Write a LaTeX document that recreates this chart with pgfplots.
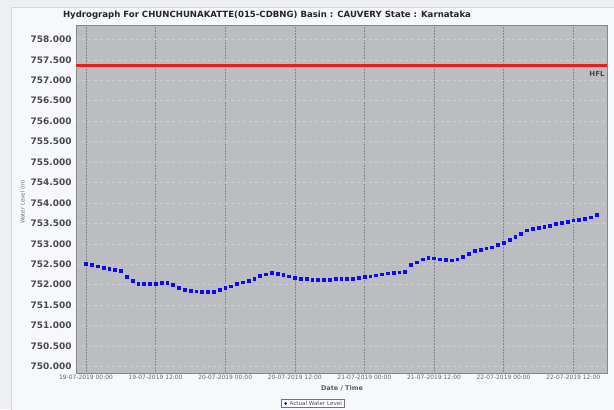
\documentclass[border=0pt]{standalone}
\usepackage{pgfplots}
\pgfplotsset{compat=1.18}
\usepackage{fontspec}
\setmainfont{DejaVu Sans}
\definecolor{outerbg}{HTML}{EDEFF2}
\definecolor{panelbg}{HTML}{F6F8FB}
\definecolor{panelbd}{HTML}{D5D9DE}
\definecolor{plotbg}{HTML}{BCBDC0}
\definecolor{vgrid}{HTML}{85878A}
\definecolor{hgrid}{HTML}{CDCED1}
\definecolor{ticktext}{HTML}{4A4A4A}
\definecolor{hflred}{HTML}{E5201E}
\definecolor{ptblue}{HTML}{0A0AF5}
\begin{document}
\begin{tikzpicture}[x=1bp,y=1bp]
\useasboundingbox (0,0) rectangle (614,409);
\fill[outerbg] (0,0) rectangle (614,409);
\filldraw[fill=panelbg,draw=panelbd,line width=0.6bp] (11,-1) rectangle (615,402);
\begin{axis}[
  at={(76bp,36bp)}, anchor=south west,
  scale only axis, width=531bp, height=348bp,
  xmin=-1.72, xmax=89.83,
  ymin=749.84, ymax=758.35,
  axis background/.style={fill=plotbg},
  axis line style={draw=vgrid, line width=0.5bp},
  xtick={0,12,24,36,48,60,72,84},
  xticklabels={19-07-2019 00:00,19-07-2019 12:00,20-07-2019 00:00,20-07-2019 12:00,21-07-2019 00:00,21-07-2019 12:00,22-07-2019 00:00,22-07-2019 12:00},
  ytick={750,750.5,...,758},
  major tick length=0pt,
  xmajorgrids, ymajorgrids,
  x grid style={draw=vgrid, line width=0.5bp, densely dotted},
  y grid style={draw=hgrid, line width=0.4bp, dashed},
  xticklabel style={font=\fontsize{6}{7}\selectfont, text=ticktext!85, yshift=1bp},
  yticklabel style={font=\fontsize{9}{10}\selectfont\bfseries, text=ticktext, xshift=-1bp,
    /pgf/number format/.cd, fixed, fixed zerofill, precision=3, 1000 sep={}, assume math mode=true},
  scaled y ticks=false,
  clip=false,
]
\addplot[draw=hflred!40, line width=4.5bp, opacity=0.6, forget plot] coordinates {(-1.72,757.36) (89.83,757.36)};
\addplot[draw=hflred, line width=2.4bp, forget plot] coordinates {(-1.72,757.36) (89.83,757.36)};
\addplot[only marks, mark=square*, mark size=1.4bp, color=ptblue] coordinates {
(0,752.52) (1,752.485) (2,752.45) (3,752.42) (4,752.39) (5,752.37) (6,752.34) (7,752.19)
(8,752.09) (9,752.03) (10,752.015) (11,752.015) (12,752.03) (13,752.04) (14,752.05) (15,752.00)
(16,751.93) (17,751.88) (18,751.85) (19,751.84) (20,751.835) (21,751.835) (22,751.835) (23,751.88)
(24,751.925) (25,751.965) (26,752.015) (27,752.06) (28,752.105) (29,752.155) (30,752.21) (31,752.255)
(32,752.29) (33,752.27) (34,752.24) (35,752.205) (36,752.175) (37,752.155) (38,752.14) (39,752.13)
(40,752.13) (41,752.13) (42,752.13) (43,752.14) (44,752.14) (45,752.15) (46,752.155) (47,752.17)
(48,752.19) (49,752.205) (50,752.23) (51,752.255) (52,752.28) (53,752.29) (54,752.305) (55,752.32)
(56,752.48) (57,752.55) (58,752.625) (59,752.65) (60,752.645) (61,752.625) (62,752.61) (63,752.60)
(64,752.625) (65,752.68) (66,752.75) (67,752.83) (68,752.865) (69,752.89) (70,752.915) (71,752.97)
(72,753.03) (73,753.10) (74,753.17) (75,753.25) (76,753.33) (77,753.37) (78,753.40) (79,753.425)
(80,753.45) (81,753.485) (82,753.51) (83,753.54) (84,753.575) (85,753.59) (86,753.62) (87,753.65)
(88,753.71)
};
\node[anchor=north east, font=\fontsize{7}{8}\selectfont\bfseries, text=ticktext, inner sep=1bp] at (axis cs:89.6,757.25) {HFL};
\end{axis}
\node[font=\fontsize{8.6}{10}\selectfont\bfseries, text=black!85] at (267,393.5) {Hydrograph For CHUNCHUNAKATTE(015-CDBNG) Basin : CAUVERY State : Karnataka};
\node[rotate=90, font=\fontsize{5.5}{6}\selectfont, text=ticktext!80] at (23,207) {Water Level (m)};
\node[font=\fontsize{6.5}{7}\selectfont\bfseries, text=ticktext!90] at (342,21) {Date / Time};
\node[draw=black!55, fill=white, line width=0.5bp, inner xsep=2.5bp, inner ysep=1.8bp, font=\fontsize{5.6}{6}\selectfont, text=ticktext] at (313,6) {\textcolor{ptblue}{\tikz\fill (0,0) circle (1.5bp);}\hspace{2.5bp}Actual Water Level};
\end{tikzpicture}
\end{document}
